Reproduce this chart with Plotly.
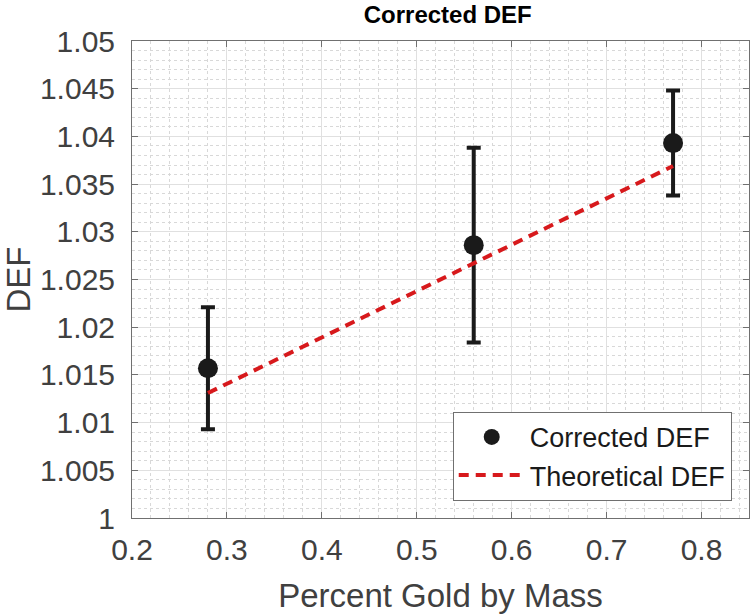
import plotly.graph_objects as go

gold_pct = [0.28, 0.56, 0.77]
def_measured = [1.0157, 1.0286, 1.0393]
def_error = [0.0064, 0.0102, 0.0055]
def_theory = [1.0131, 1.0267, 1.0369]

FONT = "Liberation Sans, Arial, Helvetica, sans-serif"

fig = go.Figure()
fig.add_trace(go.Scatter(
    x=gold_pct, y=def_measured, mode="markers", name="Corrected DEF",
    marker=dict(color="#1a1a1a", size=20),
    error_y=dict(type="data", array=def_error, visible=True,
                 color="#1a1a1a", thickness=4, width=7),
))
fig.add_trace(go.Scatter(
    x=gold_pct, y=def_theory, mode="lines", name="Theoretical DEF",
    line=dict(color="#d7191c", width=4, dash="10px,7px"),
))

axis_common = dict(
    showline=True, linecolor="#707070", linewidth=1, mirror="ticks",
    ticks="inside", ticklen=6, tickcolor="#707070",
    showgrid=True, gridcolor="#e0e0e0", gridwidth=1,
    zeroline=False, automargin=False,
    tickfont=dict(size=30, color="#404040", family=FONT),
)

fig.update_xaxes(
    range=[0.2, 0.85], dtick=0.1, tick0=0.2, ticklabelstandoff=5,
    title=dict(text="Percent Gold by Mass", font=dict(size=33, color="#404040", family=FONT), standoff=18),
    minor=dict(dtick=0.02, showgrid=True, gridcolor="#d8d8d8", griddash="dot", gridwidth=1),
    **axis_common,
)
fig.update_yaxes(
    range=[1.0, 1.05], dtick=0.005, tick0=1.0, ticklabelstandoff=10,
    title=dict(text="DEF", font=dict(size=33, color="#404040", family=FONT), standoff=20),
    minor=dict(dtick=0.001, showgrid=True, gridcolor="#d8d8d8", griddash="dot", gridwidth=1),
    **axis_common,
)

fig.update_layout(
    width=750, height=615,
    margin=dict(l=132, r=1, t=41, b=97),
    paper_bgcolor="white", plot_bgcolor="white",
    font=dict(family=FONT, color="#404040"),
    title=dict(text="<b>Corrected DEF</b>", x=0.597, xanchor="center", y=0.976, yanchor="middle",
               font=dict(size=24, color="black", family=FONT)),
    showlegend=True,
    legend=dict(x=0.972, y=0.036, xanchor="right", yanchor="bottom",
                bgcolor="white", bordercolor="#707070", borderwidth=1,
                font=dict(size=27, color="#1a1a1a", family=FONT),
                tracegroupgap=0, itemwidth=66),
)

fig.write_html("out.html", config={"displayModeBar": False},
               post_script="document.body.style.margin='0';document.body.style.overflow='hidden';")
